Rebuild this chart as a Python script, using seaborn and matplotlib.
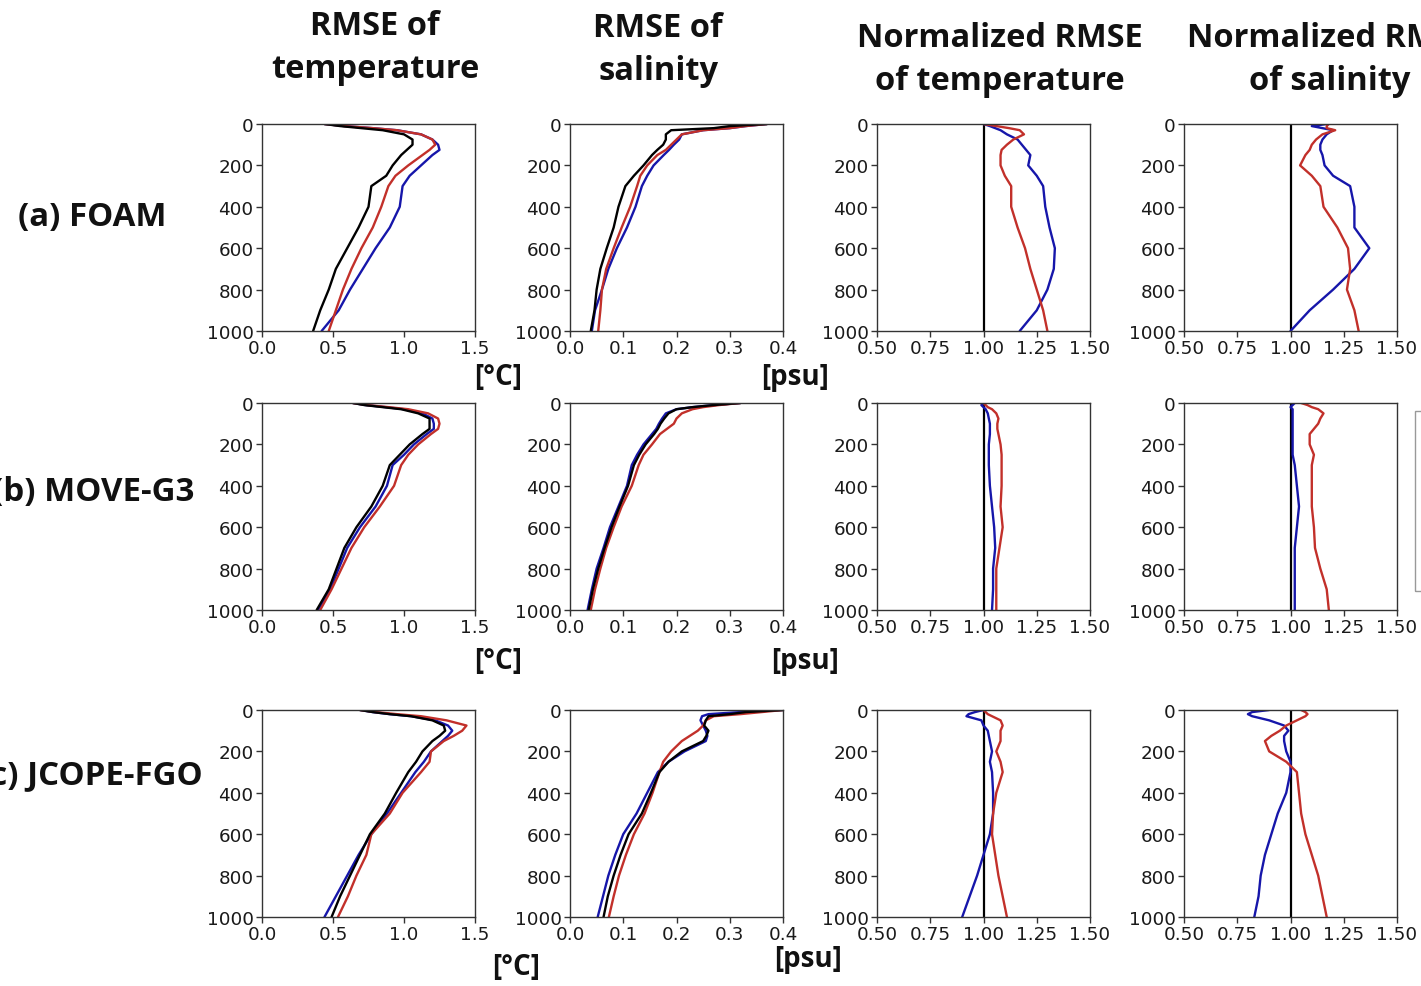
import numpy as np
import pandas as pd
import matplotlib
matplotlib.use("Agg")
import matplotlib.pyplot as plt
import seaborn as sns
from matplotlib.patches import Rectangle

sns.set_theme(style="ticks")
plt.rcParams['font.family'] = ['DejaVu Sans']

# ---------------- data ----------------
depth = [0, 10, 20, 30, 50, 75, 100, 125, 150, 200, 250, 300, 400, 500, 600, 700, 800, 900, 1000]

models = ["(a) FOAM", "(b) MOVE-G3", "(c) JCOPE-FGO"]

# (a) FOAM
foam_t_black = [0.44, 0.55, 0.70, 0.85, 1.00, 1.06, 1.06, 1.02, 0.98, 0.92, 0.875, 0.77, 0.75, 0.68, 0.60, 0.52, 0.47, 0.41, 0.36]
foam_t_blue  = [0.44, 0.58, 0.78, 0.95, 1.12, 1.20, 1.24, 1.25, 1.20, 1.12, 1.04, 0.99, 0.97, 0.90, 0.80, 0.71, 0.62, 0.54, 0.42]
foam_t_red   = [0.44, 0.58, 0.78, 0.95, 1.12, 1.20, 1.22, 1.18, 1.13, 1.03, 0.94, 0.89, 0.84, 0.78, 0.70, 0.63, 0.57, 0.52, 0.47]
foam_s_black = [0.37, 0.30, 0.27, 0.19, 0.18, 0.18, 0.175, 0.164, 0.154, 0.138, 0.12, 0.104, 0.091, 0.082, 0.069, 0.057, 0.050, 0.046, 0.039]
foam_s_blue  = [0.37, 0.33, 0.30, 0.25, 0.21, 0.205, 0.195, 0.186, 0.176, 0.157, 0.145, 0.135, 0.123, 0.107, 0.088, 0.072, 0.060, 0.047, 0.041]
foam_s_red   = [0.37, 0.33, 0.30, 0.25, 0.21, 0.20, 0.19, 0.18, 0.164, 0.145, 0.132, 0.126, 0.113, 0.097, 0.082, 0.068, 0.060, 0.057, 0.053]
foam_nt_blue = [1.00, 1.03, 1.055, 1.08, 1.11, 1.16, 1.18, 1.20, 1.22, 1.21, 1.25, 1.28, 1.29, 1.31, 1.335, 1.33, 1.30, 1.25, 1.17]
foam_nt_red  = [1.00, 1.06, 1.12, 1.17, 1.19, 1.14, 1.11, 1.085, 1.08, 1.08, 1.10, 1.13, 1.13, 1.16, 1.195, 1.22, 1.25, 1.28, 1.30]
foam_ns_blue = [1.17, 1.10, 1.15, 1.20, 1.17, 1.15, 1.14, 1.14, 1.15, 1.16, 1.20, 1.28, 1.30, 1.30, 1.37, 1.30, 1.20, 1.09, 1.00]
foam_ns_red  = [1.18, 1.17, 1.17, 1.21, 1.15, 1.12, 1.10, 1.09, 1.07, 1.045, 1.10, 1.14, 1.155, 1.22, 1.27, 1.28, 1.265, 1.30, 1.32]

# (b) MOVE-G3
move_t_black = [0.64, 0.72, 0.85, 0.98, 1.10, 1.18, 1.18, 1.18, 1.13, 1.04, 0.97, 0.90, 0.85, 0.77, 0.665, 0.58, 0.525, 0.47, 0.385]
move_t_blue  = [0.64, 0.73, 0.87, 1.00, 1.13, 1.20, 1.21, 1.21, 1.16, 1.07, 1.00, 0.92, 0.88, 0.80, 0.69, 0.60, 0.54, 0.48, 0.395]
move_t_red   = [0.64, 0.74, 0.89, 1.03, 1.17, 1.24, 1.25, 1.24, 1.19, 1.10, 1.03, 0.98, 0.93, 0.83, 0.72, 0.63, 0.56, 0.49, 0.41]
move_s_black = [0.32, 0.27, 0.23, 0.20, 0.185, 0.177, 0.17, 0.165, 0.158, 0.142, 0.13, 0.12, 0.109, 0.093, 0.078, 0.065, 0.053, 0.043, 0.035]
move_s_blue  = [0.32, 0.27, 0.23, 0.20, 0.18, 0.173, 0.167, 0.162, 0.154, 0.138, 0.126, 0.116, 0.107, 0.091, 0.075, 0.063, 0.050, 0.041, 0.033]
move_s_red   = [0.32, 0.28, 0.25, 0.23, 0.21, 0.20, 0.195, 0.182, 0.169, 0.154, 0.138, 0.129, 0.116, 0.097, 0.082, 0.068, 0.057, 0.047, 0.039]
move_nt_blue = [1.00, 0.99, 1.00, 1.01, 1.02, 1.025, 1.03, 1.03, 1.03, 1.025, 1.025, 1.025, 1.03, 1.04, 1.05, 1.055, 1.045, 1.045, 1.04]
move_nt_red  = [1.00, 1.01, 1.02, 1.04, 1.06, 1.07, 1.065, 1.065, 1.07, 1.08, 1.085, 1.085, 1.085, 1.08, 1.09, 1.075, 1.06, 1.06, 1.06]
move_ns_blue = [1.02, 1.01, 1.00, 1.01, 1.01, 1.01, 1.01, 1.01, 1.01, 1.01, 1.01, 1.02, 1.03, 1.04, 1.03, 1.02, 1.02, 1.02, 1.02]
move_ns_red  = [1.05, 1.08, 1.10, 1.13, 1.155, 1.14, 1.13, 1.11, 1.09, 1.09, 1.11, 1.10, 1.10, 1.10, 1.11, 1.115, 1.14, 1.17, 1.18]

# (c) JCOPE-FGO
jcope_t_black = [0.69, 0.78, 0.90, 1.05, 1.20, 1.28, 1.29, 1.25, 1.20, 1.13, 1.085, 1.03, 0.945, 0.865, 0.76, 0.69, 0.62, 0.55, 0.49]
jcope_t_blue  = [0.69, 0.78, 0.90, 1.05, 1.22, 1.31, 1.34, 1.31, 1.27, 1.19, 1.14, 1.08, 0.98, 0.88, 0.77, 0.68, 0.60, 0.52, 0.44]
jcope_t_red   = [0.69, 0.80, 0.95, 1.12, 1.30, 1.44, 1.41, 1.35, 1.28, 1.19, 1.18, 1.12, 0.99, 0.90, 0.77, 0.735, 0.665, 0.605, 0.535]
jcope_s_black = [0.40, 0.33, 0.30, 0.26, 0.255, 0.252, 0.26, 0.256, 0.25, 0.21, 0.185, 0.168, 0.152, 0.135, 0.11, 0.095, 0.082, 0.071, 0.063]
jcope_s_blue  = [0.40, 0.32, 0.26, 0.248, 0.245, 0.25, 0.255, 0.258, 0.255, 0.215, 0.185, 0.165, 0.145, 0.125, 0.10, 0.085, 0.072, 0.062, 0.052]
jcope_s_red   = [0.40, 0.36, 0.32, 0.27, 0.255, 0.25, 0.24, 0.225, 0.21, 0.19, 0.175, 0.168, 0.155, 0.14, 0.12, 0.105, 0.092, 0.082, 0.073]
jcope_nt_blue = [1.00, 0.96, 0.93, 0.92, 0.99, 1.00, 1.02, 1.025, 1.03, 1.04, 1.03, 1.04, 1.045, 1.045, 1.03, 1.00, 0.97, 0.935, 0.90]
jcope_nt_red  = [1.00, 1.01, 1.02, 1.04, 1.08, 1.09, 1.08, 1.08, 1.08, 1.06, 1.08, 1.09, 1.06, 1.045, 1.04, 1.055, 1.07, 1.09, 1.11]
jcope_ns_blue = [0.90, 0.82, 0.80, 0.82, 0.90, 0.97, 0.99, 0.97, 0.97, 0.98, 1.00, 1.00, 0.98, 0.94, 0.91, 0.88, 0.86, 0.85, 0.83]
jcope_ns_red  = [1.05, 1.07, 1.08, 1.07, 1.03, 0.98, 0.95, 0.91, 0.88, 0.90, 0.98, 1.03, 1.04, 1.05, 1.07, 1.10, 1.13, 1.15, 1.17]

col_titles = ["RMSE of\ntemperature", "RMSE of\nsalinity", "Normalized RMSE\nof temperature", "Normalized RMSE\nof salinity"]
temp_ticks = [0.0, 0.5, 1.0, 1.5]
sal_ticks = [0.0, 0.1, 0.2, 0.3, 0.4]
norm_ticks = [0.50, 0.75, 1.00, 1.25, 1.50]
depth_ticks = [0, 200, 400, 600, 800, 1000]

panels = [
    [(foam_t_black, foam_t_blue, foam_t_red), (foam_s_black, foam_s_blue, foam_s_red),
     (None, foam_nt_blue, foam_nt_red), (None, foam_ns_blue, foam_ns_red)],
    [(move_t_black, move_t_blue, move_t_red), (move_s_black, move_s_blue, move_s_red),
     (None, move_nt_blue, move_nt_red), (None, move_ns_blue, move_ns_red)],
    [(jcope_t_black, jcope_t_blue, jcope_t_red), (jcope_s_black, jcope_s_blue, jcope_s_red),
     (None, jcope_nt_blue, jcope_nt_red), (None, jcope_ns_blue, jcope_ns_red)],
]

colors = ["black", "#1616aa", "#c2302a"]

# ---------------- layout ----------------
W, H = 1421, 987
fig = plt.figure(figsize=(W / 100, H / 100), dpi=100)
fig.patch.set_facecolor("white")

col_left = [262, 570, 877, 1184]
row_top = [125, 404, 711]
aw, ah = 213, 207

def px_axes(x, y, w, h):
    return fig.add_axes([x / W, 1 - (y + h) / H, w / W, h / H])

for r in range(3):
    for c in range(4):
        ax = px_axes(col_left[c], row_top[r], aw, ah)
        trio = panels[r][c]
        if c >= 2:
            ax.axvline(1.0, color="black", lw=1.6, zorder=1)
        for k in (1, 2, 0):
            vals = trio[k]
            if vals is None:
                continue
            df = pd.DataFrame({"v": vals, "d": depth})
            sns.lineplot(data=df, x="v", y="d", orient="y", sort=False, estimator=None,
                         color=colors[k], lw=1.7, ax=ax)
        ax.set_ylim(1000, 0)
        ax.set_yticks(depth_ticks)
        if c == 0:
            ax.set_xlim(0, 1.5); ax.set_xticks(temp_ticks)
            ax.set_xticklabels([f"{t:.1f}" for t in temp_ticks])
        elif c == 1:
            ax.set_xlim(0, 0.4); ax.set_xticks(sal_ticks)
            ax.set_xticklabels([f"{t:.1f}" for t in sal_ticks])
        else:
            ax.set_xlim(0.5, 1.5); ax.set_xticks(norm_ticks)
            ax.set_xticklabels([f"{t:.2f}" for t in norm_ticks])
        ax.set_xlabel(""); ax.set_ylabel("")
        ax.tick_params(labelsize=13.2, length=4, width=1, color="#333333", labelcolor="#1a1a1a", pad=2)
        for s in ax.spines.values():
            s.set_color("#333333"); s.set_linewidth(1.0)
        ax.set_facecolor("white")

bold = dict(fontweight="bold", fontfamily=["Open Sans", "DejaVu Sans"], color="#111111")
# column titles
title_x = [375, 658, 1000, 1330]
title_y = [48, 50, 60, 60]
for t, x, y in zip(col_titles, title_x, title_y):
    fig.text(x / W, 1 - y / H, t, ha="center", va="center", fontsize=23.5, linespacing=1.42, **bold)

# row labels (the reference crops the left edge of the lower two)
row_lab_x = [166, 194, 203]
row_lab_y = [218, 493, 776]
for lab, x, y in zip(models, row_lab_x, row_lab_y):
    fig.text(x / W, 1 - y / H, lab, ha="right", va="center", fontsize=23.8, **bold)

# units
units = [("[°C]", 498, 378), ("[psu]", 795, 378), ("[°C]", 498, 662), ("[psu]", 805, 662),
         ("[°C]", 516, 968), ("[psu]", 808, 960)]
for txt, x, y in units:
    fig.text(x / W, 1 - y / H, txt, ha="center", va="center", fontsize=20, **bold)

# legend frame, almost entirely beyond the right edge as in the reference
fig.patches.append(Rectangle((1415 / W, 1 - 592 / H), 200 / W, 180 / H, transform=fig.transFigure,
                             fill=False, edgecolor="#999999", lw=1.0))

fig.savefig("out.png", dpi=100, facecolor="white")
